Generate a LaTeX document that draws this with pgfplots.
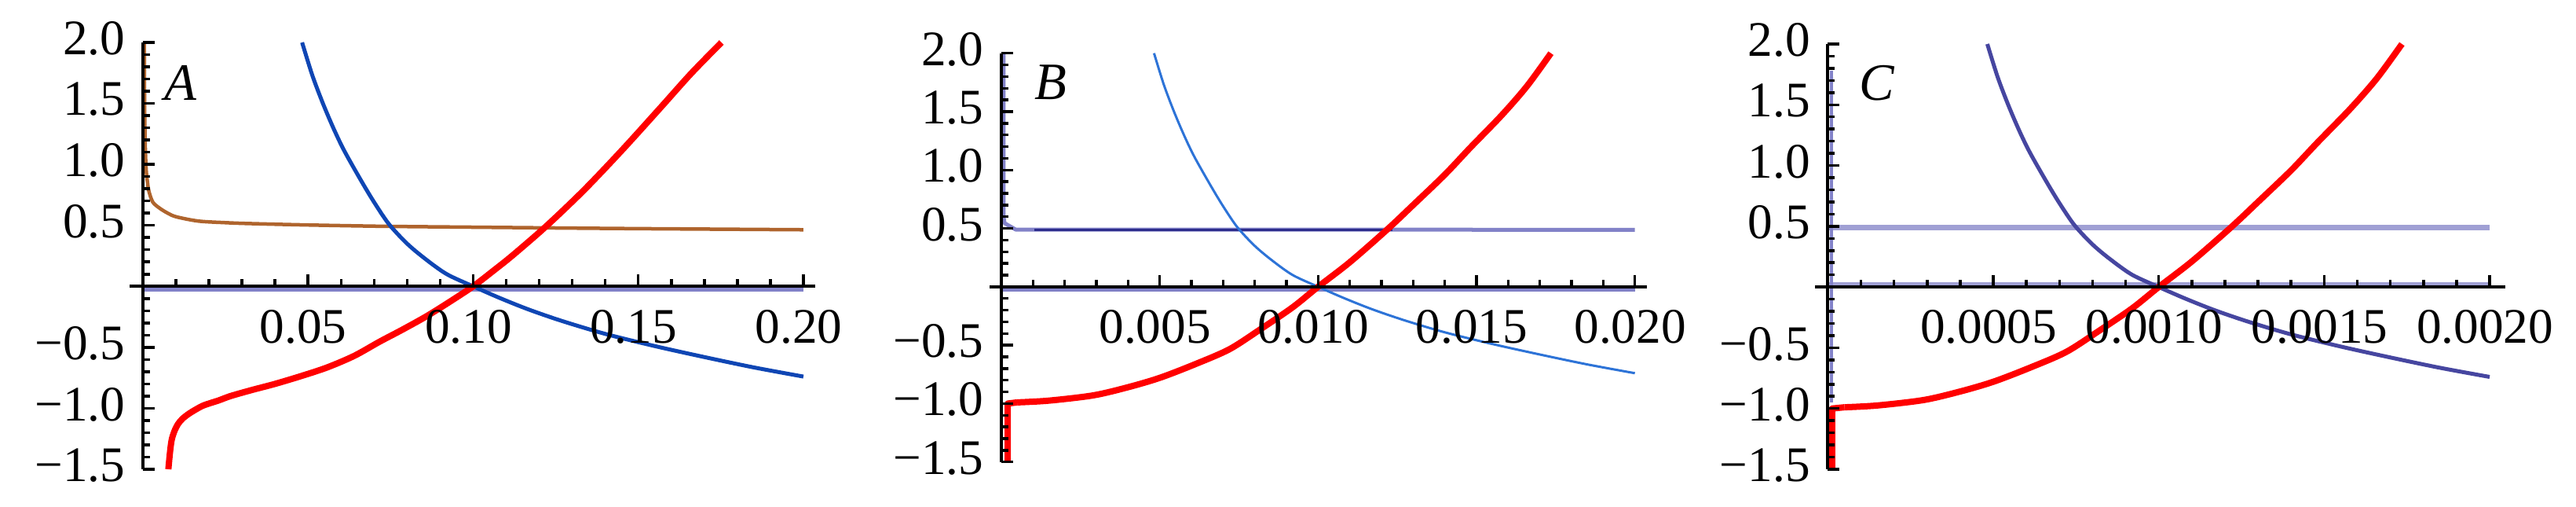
\documentclass[border=0pt]{standalone}
\usepackage{fontspec}
\setmainfont{Liberation Serif}
\usepackage{pgfplots}
\pgfplotsset{compat=1.18}
\definecolor{cblueA}{RGB}{15,70,180}
\definecolor{cblueB}{RGB}{45,115,215}
\definecolor{cslate}{RGB}{70,70,160}
\definecolor{clav}{RGB}{130,130,200}
\definecolor{clavC}{RGB}{160,160,212}
\definecolor{cnavy}{RGB}{45,45,140}
\definecolor{cbrown}{RGB}{175,100,45}
\pgfplotsset{
 panel/.style={
  scale only axis, axis lines=middle,
  axis line style={-, line width=0.04cm, black},
  axis on top, clip=false,
  scaled x ticks=false, scaled y ticks=false,
  ymin=-1.5, ymax=2,
  ytick={-1.5,-1,-0.5,0,0.5,1,1.5,2},
  yticklabels={−1.5,−1.0,−0.5,,0.5,1.0,1.5,2.0},
  minor y tick num=4, minor x tick num=4,
  tick align=inside,
  major tick length=0.15cm, minor tick length=0.09cm,
  tick style={black, line width=0.035cm},
  tick label style={font=\fontsize{18}{20}\selectfont},
  xticklabel style={anchor=north, inner sep=0pt, yshift=-0.29cm, xshift=-0.06cm},
  yticklabel style={anchor=east, inner sep=0pt, xshift=-0.22cm, yshift=0.05cm},
  every axis plot/.append style={line join=round},
 }
}
\begin{document}
\begin{tikzpicture}
\useasboundingbox (0,0) rectangle (32.8cm,6.45cm);
% ---------------- A ----------------
\begin{axis}[panel, at={(1.6518cm,0.48cm)}, anchor=south west,
  width=8.729cm, height=5.43cm, xmin=-0.004, xmax=0.2036,
  xtick={0,0.05,0.1,0.15,0.2}, xticklabels={,0.05,0.10,0.15,0.20}]
\addplot[clav, line width=0.05cm] coordinates {(0,-0.025) (0.2,-0.025)};
\addplot[cbrown, line width=0.045cm, smooth, tension=0.5] coordinates {
(0.0004,2.0) (0.0005,1.5) (0.0007,1.15) (0.0010,0.95) (0.0014,0.85) (0.0018,0.78)
(0.0030,0.69) (0.0051,0.64) (0.0075,0.60) (0.0101,0.57) (0.0168,0.535) (0.025,0.522)
(0.0318,0.515) (0.05,0.503) (0.0735,0.492) (0.10,0.485) (0.1235,0.479) (0.15,0.473) (0.2,0.464)};
\addplot[cblueA, line width=0.05cm, smooth, tension=0.5] coordinates {
(0.0482,2.00) (0.0513,1.73) (0.0545,1.50) (0.0578,1.29) (0.0610,1.11) (0.0660,0.87)
(0.0700,0.69) (0.0745,0.51) (0.0800,0.35) (0.0855,0.225) (0.0920,0.10) (0.1000,0.00)
(0.1080,-0.095) (0.1168,-0.19) (0.1270,-0.285) (0.1400,-0.39) (0.1550,-0.49)
(0.1700,-0.58) (0.1850,-0.665) (0.2000,-0.74)};
\addplot[red, line width=0.08cm, smooth, tension=0.5] coordinates {
(0.0077,-1.50) (0.0082,-1.36) (0.0087,-1.26) (0.0095,-1.19) (0.0106,-1.13) (0.0120,-1.085)
(0.0138,-1.047) (0.0160,-1.01) (0.0185,-0.975) (0.0230,-0.935) (0.0265,-0.90) (0.0330,-0.85)
(0.0400,-0.80) (0.0480,-0.735) (0.0558,-0.665) (0.0640,-0.57) (0.0716,-0.455) (0.0786,-0.355)
(0.0859,-0.245) (0.0930,-0.125) (0.1000,0.0) (0.1060,0.125) (0.1120,0.255) (0.1220,0.49)
(0.1336,0.79) (0.1452,1.12) (0.1569,1.47) (0.1660,1.745) (0.1752,2.0)};
\node[font=\fontsize{19}{20}\selectfont\itshape, inner sep=0pt] at (axis cs:0.0114,1.67) {A};
\end{axis}
% ---------------- B ----------------
\begin{axis}[panel, at={(12.6008cm,0.573cm)}, anchor=south west,
  width=8.369cm, height=5.20cm, xmin=-0.00037, xmax=0.02038,
  xtick={0,0.005,0.01,0.015,0.02}, xticklabels={,0.005,0.010,0.015,0.020}]
\addplot[clav, line width=0.05cm] coordinates {(0,-0.024) (0.02,-0.024)};
\addplot[clav, line width=0.05cm] coordinates {
(0.00007,2.0) (0.00007,0.6) (0.0001,0.545) (0.00045,0.49) (0.02,0.488)};
\addplot[cnavy, line width=0.035cm] coordinates {(0.00105,0.488) (0.01235,0.488)};
\addplot[cblueB, line width=0.03cm, smooth, tension=0.5] coordinates {
(0.00482,2.00) (0.00513,1.73) (0.00545,1.50) (0.00578,1.29) (0.00610,1.11) (0.00660,0.87)
(0.00700,0.69) (0.00745,0.51) (0.00800,0.35) (0.00855,0.225) (0.00920,0.10) (0.01000,0.00)
(0.01080,-0.095) (0.01168,-0.19) (0.01270,-0.285) (0.01400,-0.39) (0.01550,-0.49)
(0.01700,-0.58) (0.01850,-0.665) (0.02000,-0.74)};
\addplot[red, line width=0.08cm] coordinates {(0.0002,-1.49) (0.0002,-1.0) (0.0005,-0.99)};
\addplot[red, line width=0.08cm, smooth, tension=0.5] coordinates {
(0.0005,-0.99) (0.0015,-0.975) (0.0029,-0.93) (0.0040,-0.86)
(0.0050,-0.78) (0.0061,-0.665) (0.0072,-0.535) (0.0082,-0.36) (0.0092,-0.175) (0.0100,0.0)
(0.0110,0.21) (0.01218,0.49) (0.0130,0.70) (0.0140,0.96) (0.0148,1.19) (0.0158,1.47)
(0.0166,1.72) (0.01735,2.0)};
\node[font=\fontsize{19}{20}\selectfont\itshape, inner sep=0pt] at (axis cs:0.00155,1.748) {B};
\end{axis}
% ---------------- C ----------------
\begin{axis}[panel, at={(23.113cm,0.48cm)}, anchor=south west,
  width=8.785cm, height=5.41cm, xmin=-0.000038, xmax=0.002047,
  xtick={0,0.0005,0.001,0.0015,0.002}, xticklabels={,0.0005,0.0010,0.0015,0.0020}]
\addplot[clavC, line width=0.045cm] coordinates {(0,0.025) (0.002,0.025)};
\addplot[clavC, line width=0.07cm] coordinates {(0,0.49) (0.002,0.49)};
\addplot[clav, line width=0.04cm] coordinates {(0.000012,-0.95) (0.000012,1.78)};
\addplot[cslate, line width=0.05cm, smooth, tension=0.5] coordinates {
(0.000482,2.00) (0.000513,1.73) (0.000545,1.50) (0.000578,1.29) (0.000610,1.11) (0.000660,0.87)
(0.000700,0.69) (0.000745,0.51) (0.000800,0.35) (0.000855,0.225) (0.000920,0.10) (0.001000,0.00)
(0.001080,-0.095) (0.001168,-0.19) (0.001270,-0.285) (0.001400,-0.39) (0.001550,-0.49)
(0.001700,-0.58) (0.001850,-0.665) (0.002000,-0.74)};
\addplot[red, line width=0.08cm] coordinates {(0.000013,-1.5) (0.000013,-1.0) (0.00005,-0.99)};
\addplot[red, line width=0.08cm, smooth, tension=0.5] coordinates {
(0.00005,-0.99) (0.00015,-0.975) (0.00029,-0.93) (0.00040,-0.86)
(0.00050,-0.78) (0.00061,-0.665) (0.00072,-0.535) (0.00082,-0.36) (0.00092,-0.175) (0.00100,0.0)
(0.00110,0.21) (0.001218,0.49) (0.00130,0.70) (0.00140,0.96) (0.00148,1.19) (0.00158,1.47)
(0.00166,1.72) (0.001735,2.0)};
\node[font=\fontsize{19}{20}\selectfont\itshape, inner sep=0pt] at (axis cs:0.000149,1.68) {C};
\end{axis}
\end{tikzpicture}
\end{document}
